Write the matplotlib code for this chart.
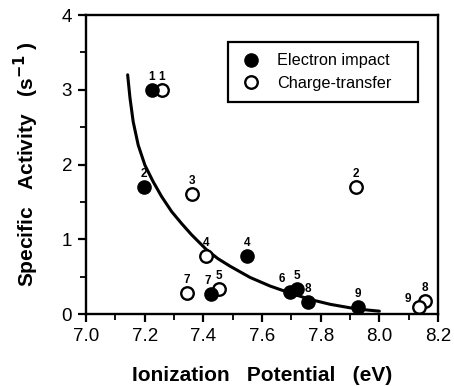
import matplotlib
matplotlib.use('Agg')
import matplotlib.pyplot as plt
from matplotlib.ticker import MultipleLocator

plt.rcParams['font.family'] = ['Liberation Sans', 'DejaVu Sans']

# electron impact (filled)
ei_x = [7.224, 7.198, 7.548, 7.425, 7.696, 7.718, 7.758, 7.928]
ei_y = [3.0, 1.70, 0.78, 0.27, 0.30, 0.34, 0.165, 0.10]
ei_lab = ['1', '2', '4', '7', '6', '5', '8', '9']

# charge-transfer (open)
ct_x = [7.258, 7.919, 7.36, 7.409, 7.453, 7.345, 8.155, 8.136]
ct_y = [3.0, 1.70, 1.60, 0.78, 0.34, 0.285, 0.17, 0.10]
ct_lab = ['1', '2', '3', '4', '5', '7', '8', '9']

# fitted curve
fit_x = [7.142, 7.150, 7.161, 7.178, 7.201, 7.229, 7.258, 7.292, 7.326,
         7.360, 7.411, 7.450, 7.491, 7.559, 7.627, 7.696, 7.764, 7.832,
         7.900, 7.960, 8.000]
fit_y = [3.20, 2.89, 2.57, 2.26, 1.99, 1.77, 1.57, 1.37, 1.21,
         1.06, 0.86, 0.74, 0.64, 0.49, 0.375, 0.28, 0.195, 0.13,
         0.083, 0.053, 0.038]

fig = plt.figure(figsize=(4.54, 3.86), dpi=100)
ax = fig.add_axes([0.1894, 0.1865, 0.7754, 0.7746])

ax.plot(fit_x, fit_y, color='black', lw=2.2, zorder=1,
        solid_joinstyle='round', solid_capstyle='round')
ax.plot(ei_x, ei_y, 'o', color='black', ms=9.5, ls='none', zorder=3,
        label='Electron impact')
ax.plot(ct_x, ct_y, 'o', mfc='white', mec='black', mew=1.7, ms=9, ls='none',
        zorder=2, label='Charge-transfer')

lab_kw = dict(fontsize=8.5, fontweight='bold', ha='center', va='bottom')
ei_off = {'6': (-6, 5), '7': (-2, 5)}
ct_off = {'9': (-8, 1)}
for x, y, t in zip(ei_x, ei_y, ei_lab):
    ax.annotate(t, (x, y), xytext=ei_off.get(t, (0, 5)),
                textcoords='offset points', **lab_kw)
for x, y, t in zip(ct_x, ct_y, ct_lab):
    ax.annotate(t, (x, y), xytext=ct_off.get(t, (0, 5)),
                textcoords='offset points', **lab_kw)

ax.set_xlim(7.0, 8.2)
ax.set_ylim(0, 4)
ax.xaxis.set_major_locator(MultipleLocator(0.2))
ax.xaxis.set_minor_locator(MultipleLocator(0.1))
ax.yaxis.set_major_locator(MultipleLocator(1))
ax.yaxis.set_minor_locator(MultipleLocator(0.5))
ax.xaxis.set_major_formatter(lambda v, p: f'{v:.1f}')
ax.tick_params(which='major', direction='out', length=6, width=1.6,
               labelsize=13.5, pad=4)
ax.tick_params(which='minor', direction='out', length=4, width=1.3)
for sp in ax.spines.values():
    sp.set_linewidth(1.7)

ax.set_xlabel('Ionization   Potential   (eV)', fontsize=15, fontweight='bold',
              labelpad=15)
ax.set_ylabel('Specific   Activity   (s$^{\\mathbf{-1}}$ )', fontsize=15,
              fontweight='bold', labelpad=15)

leg = ax.legend(loc='upper left', bbox_to_anchor=(0.403, 0.706, 0.54, 0.204),
                mode='expand', fontsize=11.7,
                frameon=True, fancybox=False, edgecolor='black',
                handlelength=1.4, handletextpad=0.94, borderpad=0.7,
                labelspacing=0.45, borderaxespad=0, framealpha=1)
leg.get_frame().set_linewidth(1.6)

fig.savefig('out.png', dpi=100)
